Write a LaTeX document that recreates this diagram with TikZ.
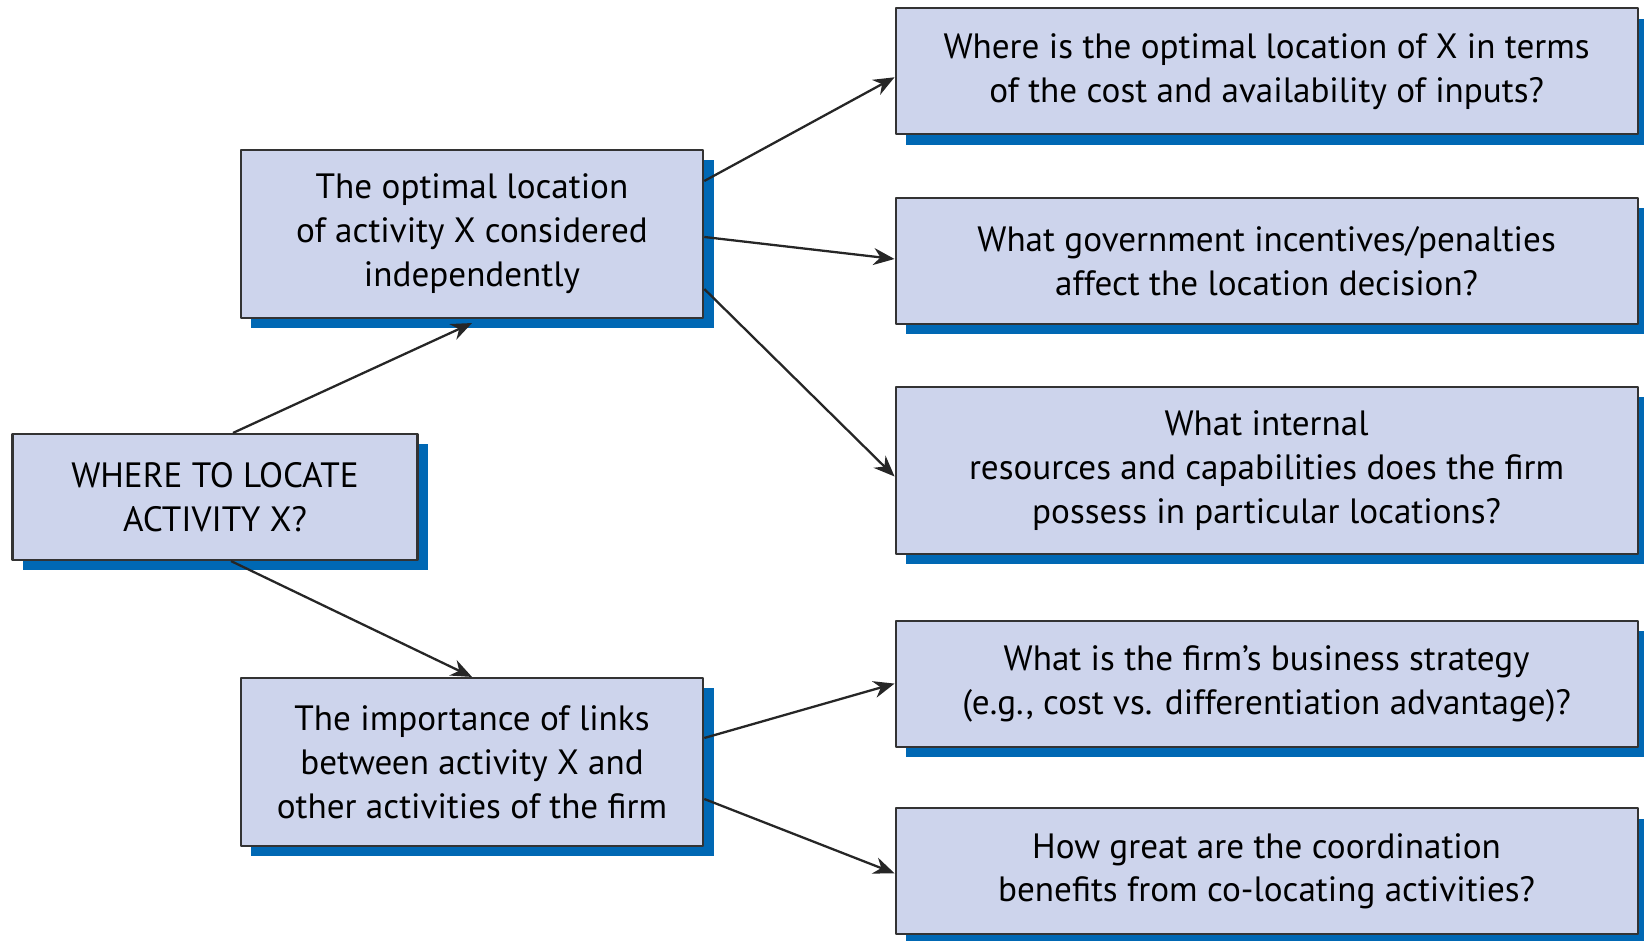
\documentclass[tikz,border=0pt]{standalone}
\usepackage{fontspec}
\setmainfont{PT Sans}
\usepackage{tikz}
\usetikzlibrary{arrows.meta,shadows}
\definecolor{boxfill}{RGB}{205,212,236}
\definecolor{shadeblue}{RGB}{0,104,180}
\tikzset{qbox/.style={draw=black!80,line width=0.6pt,fill=boxfill,inner sep=0pt,align=center,
    drop shadow={shadow xshift=0.105cm,shadow yshift=-0.105cm,fill=shadeblue,opacity=1}},
  arr/.style={->,line width=0.65pt,black!85}}

\begin{document}
\begin{tikzpicture}[>={Stealth[length=0.21cm,width=0.17cm]},line join=round,font=\fontsize{10}{12.5}\selectfont]
\useasboundingbox (0,0) rectangle (16.44,9.41);
% --- left column
\node[qbox,minimum width=4.05cm,minimum height=1.26cm] (root) at (2.15,4.44) {WHERE TO LOCATE\\ACTIVITY X?};
\node[qbox,minimum width=4.625cm,minimum height=1.68cm] (indep) at (4.72,7.07) {The optimal location\\of activity X considered\\independently};
\node[qbox,minimum width=4.625cm,minimum height=1.68cm] (links) at (4.72,1.79) {The importance of links\\between activity X and\\other activities of the firm};
% --- questions on the right
\begin{scope}[every node/.append style={qbox,minimum width=7.42cm,minimum height=1.26cm}]
\node (inputs) at (12.666,8.697) {Where is the optimal location of X in terms\\of the cost and availability of inputs?};
\node (govt) at (12.666,6.80) {What government incentives/penalties\\affect the location decision?};
\node[minimum height=1.67cm] (capab) at (12.666,4.705) {What internal\\resources and capabilities does the firm\\possess in particular locations?};
\node (strat) at (12.666,2.574) {What is the firm’s business strategy\\(e.g., cost vs. differentiation advantage)?};
\node (coord) at (12.666,0.697) {How great are the coordination\\benefits from co-locating activities?};
\end{scope}
% --- connectors
\draw[arr] ([xshift=0.18cm]root.north) -- ([yshift=-0.04cm]indep.south);
\draw[arr] ([xshift=0.16cm]root.south) -- (links.north);
\draw[arr] ([yshift=0.53cm]indep.east) -- ([yshift=-0.06cm]inputs.west);
\draw[arr] ([yshift=-0.03cm]indep.east) -- ([yshift=0.02cm]govt.west);
\draw[arr] ([yshift=-0.55cm]indep.east) -- ([yshift=-0.06cm]capab.west);
\draw[arr] ([yshift=0.24cm]links.east) -- (strat.west);
\draw[arr] ([yshift=-0.37cm]links.east) -- ([yshift=-0.02cm]coord.west);
\end{tikzpicture}
\end{document}
